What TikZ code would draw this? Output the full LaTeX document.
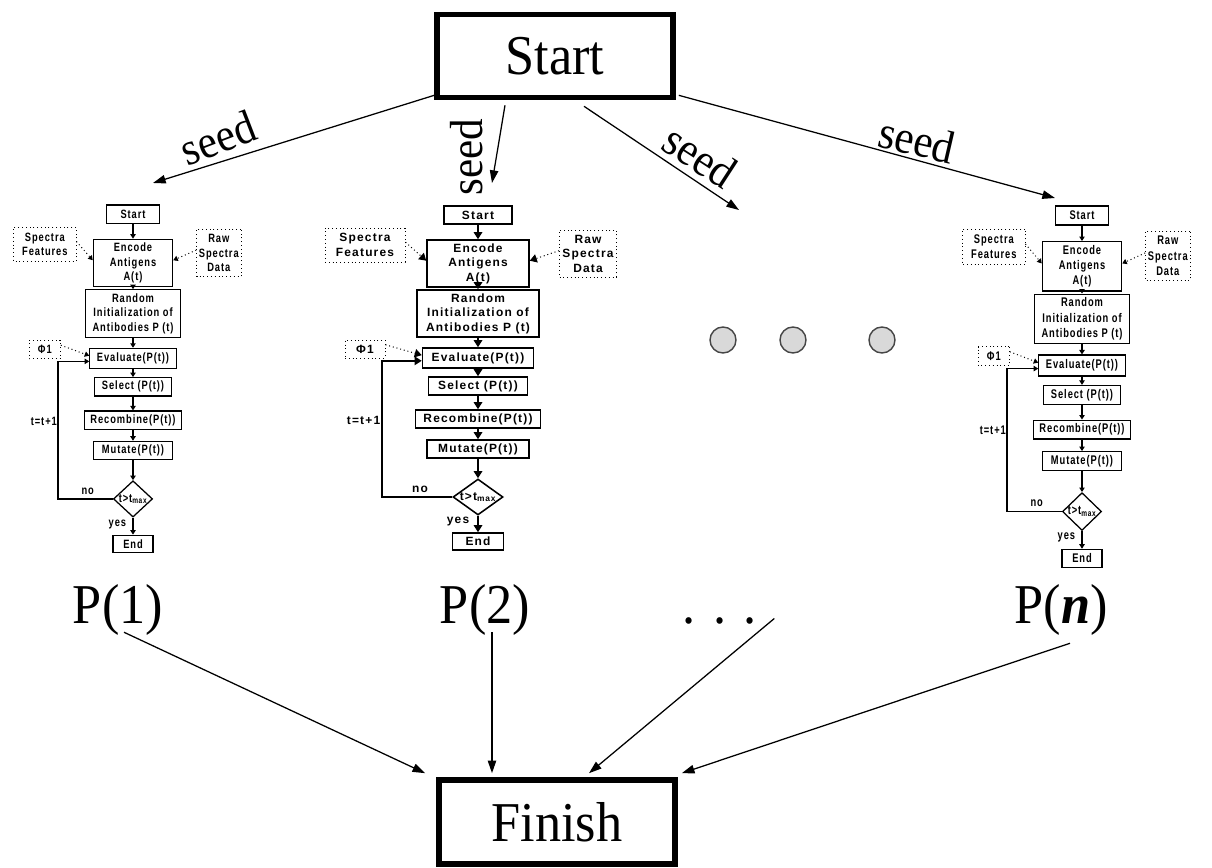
\documentclass[tikz,border=0pt]{standalone}
\usepackage{fontspec}
\setmainfont{Liberation Serif}
\newfontfamily\bigserif[FakeStretch=0.93]{Liberation Serif}
\newfontfamily\chartsans[LetterSpace=10]{Liberation Sans}
\usetikzlibrary{arrows.meta,calc,shapes.geometric}

% one pixel of the drawing grid
\def\upx{0.025cm}
\newcommand\flowfont{\chartsans\bfseries\fontsize{8.5}{10.3}\selectfont}

\tikzset{
  bigbox/.style={draw, line width=4pt, minimum width=236*\upx, minimum height=83*\upx,
    inner sep=0pt, font=\bigserif\fontsize{40}{44}\selectfont},
  bigtext/.style={inner sep=0pt, font=\bigserif\fontsize{40}{44}\selectfont},
  seedlabel/.style={inner sep=0pt, font=\bigserif\fontsize{33}{36}\selectfont},
  bigarrow/.style={line width=0.9pt, -{Triangle[length=9pt,width=6pt]}},
  fbox/.style={draw, align=center, inner sep=0pt, font=\flowfont},
  dotbox/.style={draw, dotted, line width=0.7pt, align=center, inner sep=0pt, font=\flowfont},
  decision/.style={draw, diamond, inner sep=0pt, minimum width=50*\upx, minimum height=36*\upx},
  flowlabel/.style={inner sep=0pt, font=\flowfont},
  dotarrow/.style={dotted, line width=0.7pt},
  graydot/.style={circle, draw=gray!55!black, fill=gray!30, line width=1pt,
    minimum size=26*\upx, inner sep=0pt},
}

% one island of the algorithm, drawn in local pixel coordinates
\newcommand\flowblock{%
  \coordinate (loopx) at (-96,0);
  \node[fbox, minimum width=68*\upx, minimum height=18*\upx] (start) at (0,9) {Start};
  \node[fbox, minimum width=102*\upx, minimum height=47*\upx] (enc) at (0,57.5) {Encode\\Antigens\\A(t)};
  \node[fbox, minimum width=122*\upx, minimum height=47*\upx] (rand) at (0,107.5) {Random\\Initialization of\\Antibodies P (t)};
  \node[fbox, minimum width=111*\upx, minimum height=20*\upx] (eval) at (0,152) {Evaluate(P(t))};
  \node[fbox, minimum width=99*\upx, minimum height=18*\upx] (sel) at (0,180) {Select (P(t))};
  \node[fbox, minimum width=125*\upx, minimum height=18*\upx] (recomb) at (0,213) {Recombine(P(t))};
  \node[fbox, minimum width=102*\upx, minimum height=18*\upx] (mut) at (0,243) {Mutate(P(t))};
  \node[decision] (dia) at (0,291) {};
  \node[flowlabel] (diatext) at (dia.center) {t>t\textsubscript{max}};
  \node[fbox, minimum width=51*\upx, minimum height=17*\upx] (end) at (0,335.5) {End};
  \node[dotbox, minimum width=80*\upx, minimum height=34*\upx] (sf) at (-113,39) {Spectra\\Features};
  \node[dotbox, minimum width=57*\upx, minimum height=47*\upx] (raw) at (110,47.5) {Raw\\Spectra\\Data};
  \node[dotbox, minimum width=40*\upx, minimum height=18*\upx] (phi) at (-113,143) {Φ1};
  % main flow
  \draw[farrow] (start) -- (enc);
  \draw[farrow] (enc) -- (rand);
  \draw[farrow] (rand) -- (eval);
  \draw[farrow] (eval) -- (sel);
  \draw[farrow] (sel) -- (recomb);
  \draw[farrow] (recomb) -- (mut);
  \draw[farrow] (mut) -- (dia);
  \draw[farrow] (dia) -- (end);
  % inputs
  \draw[dotarrow, farrow] ([yshift=2pt]sf.east) -- ([yshift=2pt]enc.west);
  \draw[dotarrow, farrow] ([yshift=2pt]raw.west) -- ([yshift=2pt]enc.east);
  \draw[dotarrow, farrow] ([yshift=3pt]phi.east) -- ([yshift=2pt]eval.west);
  % generation loop
  \draw[farrow] (dia.west) -- (dia.west -| loopx) |- ([yshift=-2pt]eval.west);
  \node[flowlabel] (no) at (-58,283) {no};
  \node[flowlabel, anchor=east] (tinc) at (-97,214) {t=t+1};
  \node[flowlabel] (yes) at (-20,316) {yes};
}

\begin{document}
\begin{tikzpicture}[x=0.025cm, y=-0.025cm]
\useasboundingbox (0,0) rectangle (1212,868);

% top: the common start
\node[bigbox] (S) at (555,56) {Start};
\coordinate (e1) at (153,183);
\coordinate (e2) at (492,183);
\coordinate (e3) at (739,210);
\coordinate (e4) at (1055,198);
\draw[bigarrow] ($(S.south west)+(0,-5)$) -- (e1);
\draw[bigarrow] ($(S.south)+(-50,5)$) -- (e2);
\draw[bigarrow] ($(S.south)+(29,6)$) -- (e3);
\draw[bigarrow] ($(S.south east)+(3,-5)$) -- (e4);
\node[seedlabel, rotate=21] (s1) at (218,138) {seed};
\node[seedlabel, rotate=90] (s2) at (467,157) {seed};
\node[seedlabel, rotate=-33] (s3) at (700,156) {seed};
\node[seedlabel, rotate=-13] (s4) at (917,140) {seed};

% the islands
\begin{scope}[shift={(133,205)}, xscale=0.78, yscale=1.01, transform shape, name prefix=L-,
  line width=0.9pt, farrow/.style={-{Triangle[length=3.2pt,width=3.8pt]}}]
  \flowblock
\end{scope}
\begin{scope}[shift={(478,206)}, transform shape, name prefix=M-,
  line width=1.1pt, farrow/.style={-{Triangle[length=5pt,width=6pt]}}]
  \flowblock
\end{scope}
\begin{scope}[shift={(1082,206)}, xscale=0.78, yscale=1.05, transform shape, name prefix=R-,
  line width=0.9pt, farrow/.style={-{Triangle[length=3.2pt,width=3.8pt]}}]
  \flowblock
\end{scope}

% the islands not drawn
\node[graydot] (d1) at (723,340) {};
\node[graydot] (d2) at (793,340) {};
\node[graydot] (d3) at (882,340) {};

% results
\node[bigtext, anchor=base] (P1) at (118,623) {P(1)};
\node[bigtext, anchor=base] (P2) at (485,623) {P(2)};
\node[bigtext, anchor=base] (Pd) at (720,623) {. . .};
\node[bigtext, anchor=base] (Pn) at (1061,623) {P(\textbf{\textit{n}})};

% bottom: the common finish
\node[bigbox, minimum height=84*\upx] (F) at (557,822) {Finish};
\draw[bigarrow] ($(P1.south)+(6,-3)$) -- ($(F.north west)+(-11,-4)$);
\draw[bigarrow] ($(P2.south)+(7,-3)$) coordinate (p2s) -- ($(p2s |- F.north)+(0,-4)$);
\draw[bigarrow] ($(Pd.east)+(17,-2)$) -- ($(F.north)+(32,-4)$);
\draw[bigarrow] ($(Pn.south)+(9,8)$) -- ($(F.north east)+(4,-4)$);
\end{tikzpicture}
\end{document}
